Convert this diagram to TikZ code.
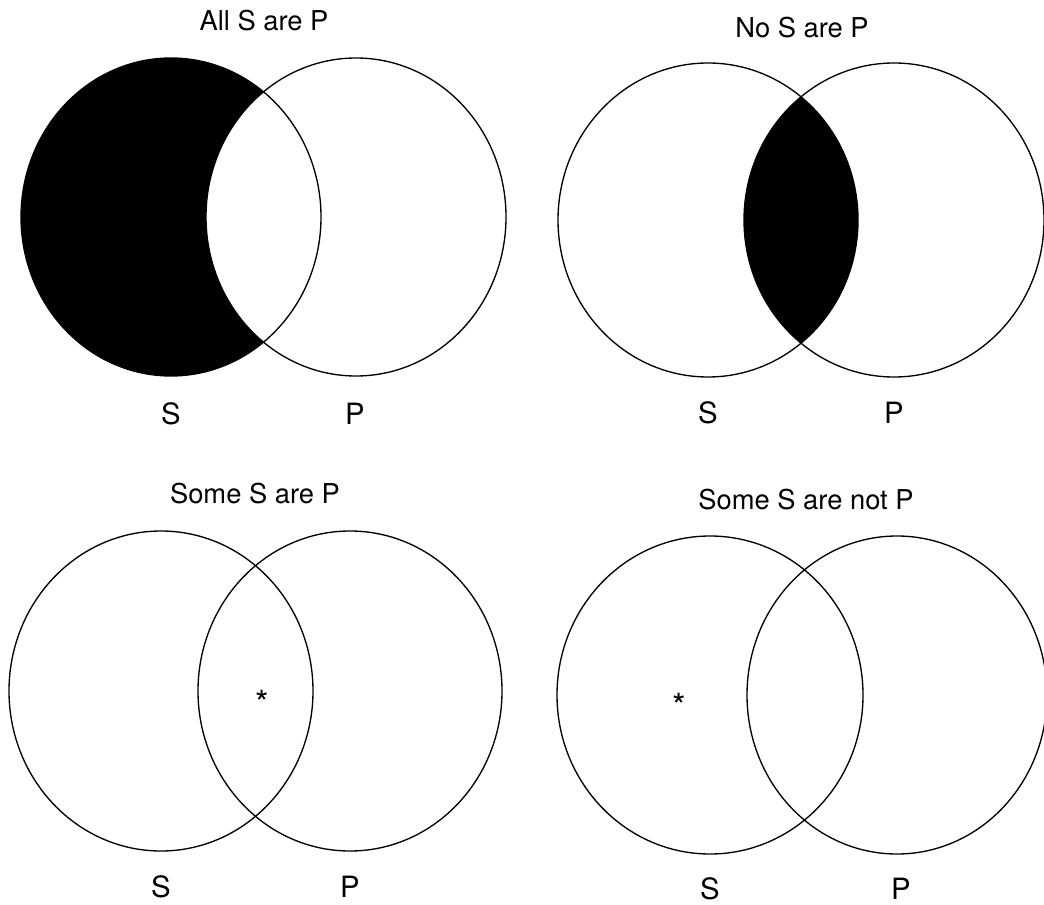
\documentclass[tikz,border=0pt]{standalone}
\usepackage{fontspec}
\setmainfont{TeX Gyre Heros}
\usepackage{tikz}
\usetikzlibrary{positioning}

\begin{document}
\begin{tikzpicture}[
    x=0.75pt, y=-0.75pt,
    every node/.style={inner sep=0pt},
    title/.style={font=\fontsize{20.5}{22}\selectfont},
    setlabel/.style={font=\fontsize{22}{24}\selectfont},
    starmark/.style={font=\fontsize{26}{28}\selectfont},
    venn/.style={draw, line width=1pt},
    shade/.style={fill=black},
]
    \useasboundingbox (0,0) rectangle (1044,905);

    % --- All S are P ---
    \fill[shade] (171,217) ellipse [x radius=150, y radius=159];
    \fill[white] (356,217) ellipse [x radius=150, y radius=159];
    \draw[venn] (171,217) ellipse [x radius=150, y radius=159];
    \draw[venn] (356,217) ellipse [x radius=150, y radius=159];
    \node[title] (alltitle) at (264,21) {All S are P};
    \node[setlabel] (alls) at (171,414) {S};
    \node[setlabel] (allp) at (355,414) {P};

    % --- No S are P ---
    \begin{scope}
        \clip (708,220) ellipse [x radius=150, y radius=157];
        \fill[shade] (894,220) ellipse [x radius=150, y radius=157];
    \end{scope}
    \draw[venn] (708,220) ellipse [x radius=150, y radius=157];
    \draw[venn] (894,220) ellipse [x radius=150, y radius=157];
    \node[title] (notitle) at (802,28) {No S are P};
    \node[setlabel] (nos) at (708,413) {S};
    \node[setlabel] (nop) at (894,413) {P};

    % --- Some S are P ---
    \draw[venn] (161,691) ellipse [x radius=152, y radius=160];
    \draw[venn] (350,691) ellipse [x radius=152, y radius=160];
    \node[starmark] (somestar) at (262,703) {*};
    \node[title] (sometitle) at (255,494) {Some S are P};
    \node[setlabel] (somes) at (161,887) {S};
    \node[setlabel] (somep) at (350,887) {P};

    % --- Some S are not P ---
    \draw[venn] (710,695) ellipse [x radius=153, y radius=159];
    \draw[venn] (897,695) ellipse [x radius=150, y radius=159];
    \node[starmark] (notstar) at (679,706) {*};
    \node[title] (nottitle) at (806,500) {Some S are not P};
    \node[setlabel] (nots) at (710,889) {S};
    \node[setlabel] (notp) at (901,889) {P};

\end{tikzpicture}
\end{document}
